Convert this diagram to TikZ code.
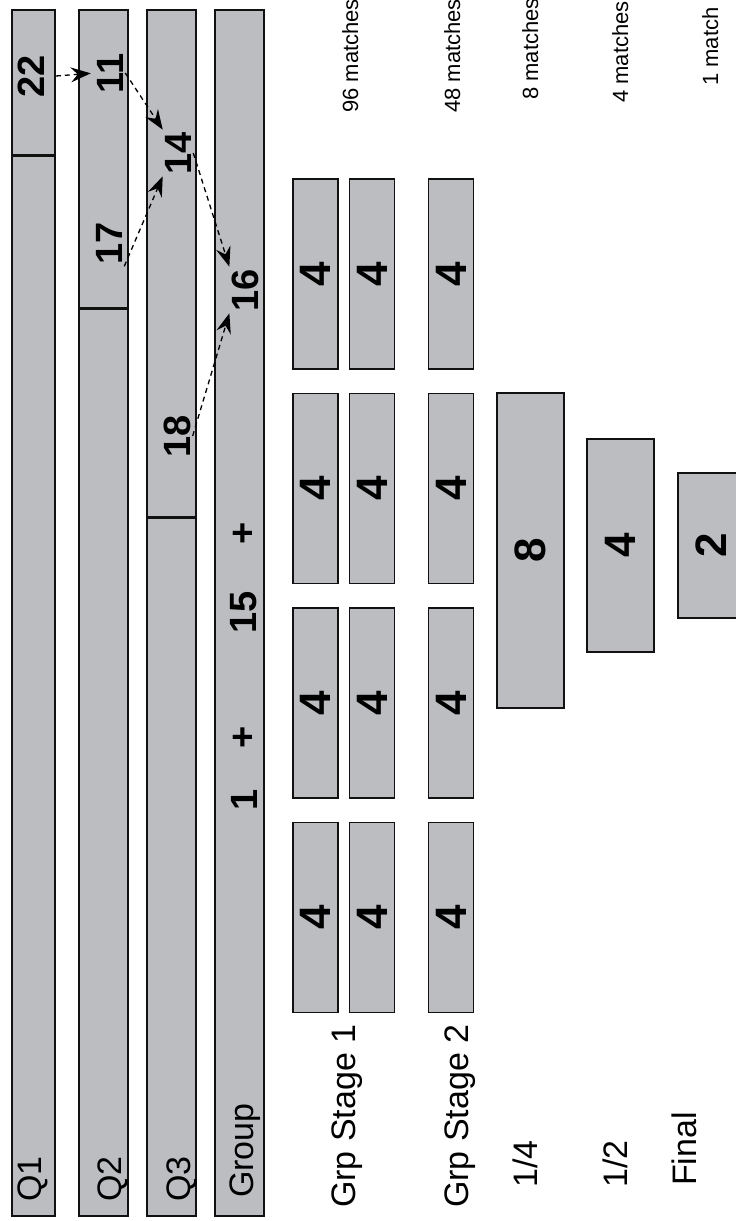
\documentclass[tikz,border=0pt]{standalone}
\usepackage{fontspec}
\setmainfont{Liberation Sans}
\usepackage{tikz}
\usetikzlibrary{arrows.meta,positioning,calc}
\definecolor{ink}{HTML}{111111}
\definecolor{barfill}{HTML}{BCBDC1}

\begin{document}
\begin{tikzpicture}[
  x=1pt,y=-1pt,
  every node/.style={inner sep=2pt},
  bar/.style={draw=ink,fill=barfill,line width=1.6pt,minimum width=49pt,minimum height=1206pt,inner sep=0pt},
  stagebox/.style={draw=ink,fill=barfill,line width=1.6pt,rotate=90,minimum width=190pt,minimum height=45pt,inner sep=0pt,font=\fontsize{44}{48}\selectfont\bfseries},
  num/.style={rotate=90,font=\fontsize{38}{40}\selectfont\bfseries},
  tag/.style={rotate=90,anchor=base west,font=\fontsize{34}{38}\selectfont},
  count/.style={rotate=90,anchor=base west,font=\fontsize{22}{24}\selectfont},
  link/.style={dash pattern=on 5pt off 4pt,line width=1.3pt,-{Stealth[length=20pt,width=15pt,inset=7pt,line width=0pt]}},
  divider/.style={line width=3pt,color=ink}
]
\useasboundingbox (0,0) rectangle (736,1221);
% qualifying rounds and group bars
\node[bar,minimum width=43pt] (Q1) at (33.5,613) {};
\node[bar] (Q2) at (103.5,613) {};
\node[bar] (Q3) at (171.5,613) {};
\node[bar] (G) at (239.5,613) {};
\draw[divider] (Q1.west |- 0,155) -- (Q1.east |- 0,155);
\draw[divider] (Q2.west |- 0,308) -- (Q2.east |- 0,308);
\draw[divider] (Q3.west |- 0,517) -- (Q3.east |- 0,517);
\node[num] (n22) at (31,76) {22};
\node[num] (n11) at (110,73) {11};
\node[num] (n17) at (109,243) {17};
\node[num] (n14) at (178,153) {14};
\node[num] (n18) at (177,436) {18};
\node[num] (n16) at (245,290) {16};
\node[num] (plusb) at (244,533) {+};
\node[num] (g15) at (244,612) {15};
\node[num] (plusa) at (244,737) {+};
\node[num] (g1) at (244,800) {1};
\draw[link,shorten >=4pt] (Q1.east |- n22) -- (n11.north);
\draw[link] (n11.south) -- (n14.north east);
\draw[link] (n17.south west) -- (n14.north west);
\draw[link] (n14.south) -- (n16.north east);
\draw[link] (n18.south) -- (n16.north west);
% group stages
\foreach \r [count=\i] in {274,488.5,703,917.5} {
  \node[stagebox] (a\i) at (315.5,\r) {4};
  \node[stagebox] (b\i) at (372,\r) {4};
  \node[stagebox] (c\i) at (451,\r) {4};
}
% knockout rounds
\node[stagebox,minimum width=315pt,minimum height=67pt] (qf) at (530.5,550.5) {8};
\node[stagebox,minimum width=213pt,minimum height=67pt] (sf) at (620.5,545.5) {4};
\node[stagebox,minimum width=145pt,minimum height=67pt] (fin) at (711.5,545.5) {2};
% round names
\node[tag] (lq1) at (41,1204) {Q1};
\node[tag] (lq2) at (121,1204) {Q2};
\node[tag] (lq3) at (190,1204) {Q3};
\node[tag] (lgr) at (253,1200) {Group};
\node[tag] (ls1) at (355,1210) {Grp Stage 1};
\node[tag] (ls2) at (468,1210) {Grp Stage 2};
\node[tag] (lqf) at (537,1190) {1/4};
\node[tag] (lsf) at (627,1190) {1/2};
\node[tag] (lfin) at (696,1188) {Final};
% match counts
\node[count] (m1) at (358,115) {96 matches};
\node[count] (m2) at (460,115) {48 matches};
\node[count] (m3) at (538,102) {8 matches};
\node[count] (m4) at (628,105) {4 matches};
\node[count] (m5) at (718,88) {1 match};
\end{tikzpicture}
\end{document}
